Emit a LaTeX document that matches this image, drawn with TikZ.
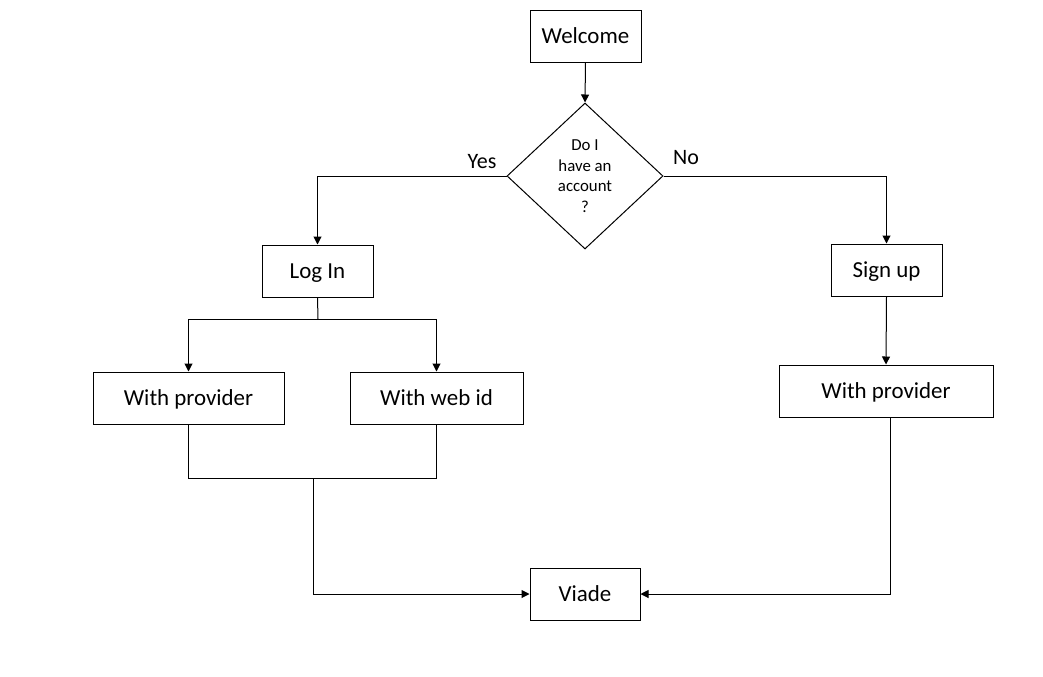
\documentclass[tikz,border=0pt]{standalone}
\usepackage{fontspec}
\setmainfont{Carlito}
\usetikzlibrary{shapes.geometric,arrows.meta,calc}
\tikzset{
  box/.style={draw=black, line width=0.75pt, inner sep=0pt, minimum height=39pt, text height=11pt, text depth=0pt, font=\fontsize{17.2}{20}\selectfont},
  choice/.style={draw=black, line width=0.75pt, diamond, inner sep=0pt, minimum width=117pt, minimum height=109.5pt, align=center, font=\fontsize{12.6}{15.4}\selectfont},
  lbl/.style={inner sep=0pt, font=\fontsize{16.5}{18}\selectfont},
  conn/.style={line width=0.75pt, draw=black},
  arr/.style={conn, -{Triangle[length=6pt,width=6pt]}}
}
\begin{document}
\begin{tikzpicture}[x=0.75pt,y=-0.75pt]
\fill[white] (0,0) rectangle (1043,676);
\useasboundingbox (0,0) rectangle (1043,676);
\node[box, minimum width=83.25pt] (welcome) at (585.5,36) {Welcome};
\node[choice] (q) at (585,176) {Do I\\have an\\account\\?};
\node[box, minimum width=83.25pt] (login) at (317.5,271) {Log In};
\node[box, minimum width=83.25pt] (signup) at (886.5,270) {Sign up};
\node[box, minimum width=143.25pt] (wp) at (188.5,398) {With provider};
\node[box, minimum width=129.75pt] (wid) at (436.5,398) {With web id};
\node[box, minimum width=160.5pt] (wp2) at (886,391) {With provider};
\node[box, minimum width=82.5pt] (viade) at (585,594) {Viade};
\node[lbl] (yes) at (482,162) {Yes};
\node[lbl] (no) at (686,158) {No};
\coordinate (split) at (318,319);
\coordinate (joinm) at (313,478);
\coordinate (rdown) at (890,417);
\draw[arr] (welcome.south) -- (q.north);
\draw[arr] (q.west) -| (login.north);
\draw[arr] (q.east) -| (signup.north);
\draw[conn] (login.south) -- (split);
\draw[arr] (split) -| (wp.north);
\draw[arr] (split) -| (wid.north);
\draw[conn] (wp.south) |- (joinm);
\draw[conn] (wid.south) |- (joinm);
\draw[arr] (joinm) |- (viade.west);
\draw[arr] (signup.south) -- (wp2.north);
\draw[arr] (rdown) |- (viade.east);
\end{tikzpicture}
\end{document}
